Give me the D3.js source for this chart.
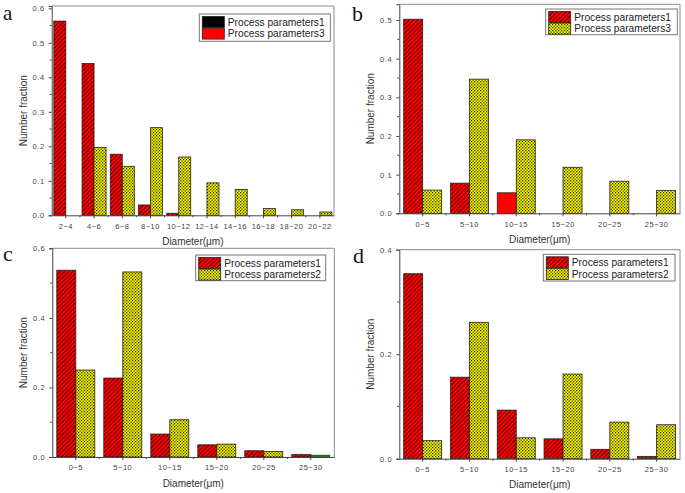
<!DOCTYPE html>
<html>
<head>
<meta charset="utf-8">
<script src="https://cdn.jsdelivr.net/npm/d3@7"></script>
<style>
  body { margin: 0; background: #fff; }
  svg { display: block; }
  text { font-family: "Liberation Sans", Arial, sans-serif; }
</style>
</head>
<body>
<svg id="chart" width="685" height="493"></svg>
<script>
// ---------- data ----------
const catsA = ["2~4","4~6","6~8","8~10","10~12","12~14","14~16","16~18","18~20","20~22"];
const catsBCD = ["0~5","5~10","10~15","15~20","20~25","25~30"];

const aPP1 = [0.563, 0.440, 0.177, 0.030, 0.006, 0, 0, 0, 0, 0];
const aPP3 = [0, 0.197, 0.142, 0.254, 0.169, 0.094, 0.075, 0.020, 0.016, 0.0096];

const bPP1 = [0.502, 0.078, 0.053, 0, 0, 0];
const bPP3 = [0.060, 0.347, 0.190, 0.119, 0.083, 0.059];

const cPP1 = [0.537, 0.227, 0.066, 0.035, 0.018, 0.007];
const cPP2 = [0.250, 0.532, 0.107, 0.037, 0.016, 0.005];

const dPP1 = [0.354, 0.156, 0.093, 0.038, 0.018, 0.0045];
const dPP2 = [0.0345, 0.261, 0.040, 0.162, 0.070, 0.065];

const ticksA = [0, 0.1, 0.2, 0.3, 0.4, 0.5, 0.6];
const ticksB = [0, 0.1, 0.2, 0.3, 0.4, 0.5];
const ticksC = [0, 0.2, 0.4, 0.6];
const ticksD = [0, 0.2, 0.4];

const legendA = ["Process parameters1", "Process parameters3"];
const legendB = ["Process parameters1", "Process parameters3"];
const legendC = ["Process parameters1", "Process parameters2"];
const legendD = ["Process parameters1", "Process parameters2"];

const xTitle = "Diameter(μm)";
const yTitle = "Number fraction";

// ---------- drawing ----------
const svg = d3.select("#chart");
const defs = svg.append("defs");

const hatch = defs.append("pattern").attr("id", "hatchRed")
  .attr("patternUnits", "userSpaceOnUse").attr("width", 3).attr("height", 3)
  .attr("patternTransform", "rotate(45)");
hatch.append("rect").attr("width", 3).attr("height", 3).attr("fill", "#ff0000");
hatch.append("rect").attr("x", 0).attr("y", 0).attr("width", 1).attr("height", 3).attr("fill", "#5a0000");

const check = defs.append("pattern").attr("id", "checkYellow")
  .attr("patternUnits", "userSpaceOnUse").attr("width", 3).attr("height", 3);
check.append("rect").attr("width", 3).attr("height", 3).attr("fill", "#ffff00");
check.append("rect").attr("x", 0).attr("y", 0).attr("width", 1.25).attr("height", 1.25).attr("fill", "#2a2a00");
check.append("rect").attr("x", 1.5).attr("y", 1.5).attr("width", 1.25).attr("height", 1.25).attr("fill", "#2a2a00");

function panel(cfg) {
  const g = svg.append("g");
  const x = d3.scaleBand().domain(cfg.cats).range([cfg.left, cfg.right]).padding(0);
  const y = d3.scaleLinear().domain([0, cfg.ymax]).range([cfg.bottom, cfg.top]);
  const bw = cfg.barW;

  // frame (top & right)
  g.append("path")
    .attr("d", `M${cfg.left},${cfg.top}H${cfg.right}V${cfg.bottom}`)
    .attr("fill", "none").attr("stroke", "#8a8a8a").attr("stroke-width", 1);

  cfg.cats.forEach((c, i) => {
    const cx = x(c) + x.bandwidth() / 2;
    const v1 = cfg.s1[i];
    if (v1 > 0) {
      const fill = (cfg.s1Fill && cfg.s1Fill[i]) || cfg.fill1;
      g.append("rect").attr("x", cx - bw).attr("y", y(v1))
        .attr("width", bw).attr("height", y(0) - y(v1))
        .attr("fill", fill).attr("stroke", "#222").attr("stroke-width", 0.8);
    }
    const v2 = cfg.s2[i];
    if (v2 > 0) {
      const fill = (cfg.s2Fill && cfg.s2Fill[i]) || cfg.fill2;
      g.append("rect").attr("x", cx).attr("y", y(v2))
        .attr("width", bw).attr("height", y(0) - y(v2))
        .attr("fill", fill).attr("stroke", "#222").attr("stroke-width", 0.8);
    }
  });

  // y axis
  const yAxis = d3.axisLeft(y).tickValues(cfg.ticks).tickFormat(d3.format(".1f"))
    .tickSize(3).tickPadding(4);
  const ya = g.append("g").attr("transform", `translate(${cfg.left},0)`).call(yAxis);
  ya.select(".domain").attr("stroke", "#444");
  ya.selectAll(".tick line").attr("stroke", "#444");
  ya.selectAll(".tick text").attr("fill", "#444").style("font-size", "7.5px")
    .style("letter-spacing", "0.6px").style("font-family", "Liberation Sans, Arial, sans-serif");
  const step = cfg.ticks[1] - cfg.ticks[0];
  const minors = cfg.ticks.slice(0, -1).map(t => t + step / 2).filter(t => t <= cfg.ymax);
  g.selectAll(null).data(minors).enter().append("line")
    .attr("x1", cfg.left - 2).attr("x2", cfg.left)
    .attr("y1", d => y(d)).attr("y2", d => y(d)).attr("stroke", "#444");

  // x axis
  const xAxis = d3.axisBottom(x).tickSize(3).tickPadding(5).tickSizeOuter(0);
  const xa = g.append("g").attr("transform", `translate(0,${cfg.bottom})`).call(xAxis);
  xa.select(".domain").attr("stroke", "#444");
  xa.selectAll(".tick line").attr("stroke", "#444");
  xa.selectAll(".tick text").attr("fill", "#444").style("font-size", "7.5px")
    .style("letter-spacing", "0.5px").style("font-family", "Liberation Sans, Arial, sans-serif");
  const bounds = cfg.cats.slice(1).map(c => x(c));
  g.selectAll(null).data(bounds).enter().append("line")
    .attr("x1", d => d).attr("x2", d => d)
    .attr("y1", cfg.bottom).attr("y2", cfg.bottom + 2).attr("stroke", "#444");

  // titles
  g.append("text").attr("x", (cfg.left + cfg.right) / 2).attr("y", cfg.xTitleY)
    .attr("text-anchor", "middle").attr("fill", "#333").style("font-size", "10px").text(xTitle);
  g.append("text")
    .attr("transform", `translate(${cfg.yTitleX},${(cfg.top + cfg.bottom) / 2}) rotate(-90)`)
    .attr("text-anchor", "middle").attr("fill", "#333").style("font-size", "10px").text(yTitle);

  // panel letter
  g.append("text").attr("x", cfg.letterX).attr("y", cfg.letterY)
    .style("font-family", "Liberation Serif, Times New Roman, serif")
    .style("font-size", cfg.letterSize + "px").attr("fill", "#111").text(cfg.letter);

  // legend
  const L = cfg.legend;
  g.append("rect").attr("x", L.x).attr("y", L.y).attr("width", L.w).attr("height", L.h)
    .attr("fill", "#fff").attr("stroke", "#777").attr("stroke-width", 1);
  cfg.legendLabels.forEach((lab, i) => {
    const ry = L.y + 2.5 + i * 11.6;
    g.append("rect").attr("x", L.x + 3).attr("y", ry).attr("width", 22).attr("height", 11)
      .attr("fill", cfg.legendFills[i]).attr("stroke", "#222").attr("stroke-width", 0.8);
    g.append("text").attr("x", L.x + 28.5).attr("y", ry + 9.2)
      .attr("fill", "#222").style("font-size", "10.2px").text(lab);
  });
}

panel({
  cats: catsA, s1: aPP1, s2: aPP3, ticks: ticksA,
  left: 51.7, right: 334, top: 6, bottom: 215.3, ymax: 0.6067, barW: 12,
  fill1: "url(#hatchRed)", fill2: "url(#checkYellow)",
  xTitleY: 245, yTitleX: 27, letter: "a", letterX: 3, letterY: 19.5, letterSize: 21,
  legend: { x: 199.3, y: 14, w: 131, h: 27.3 }, legendLabels: legendA,
  legendFills: ["#000000", "#ff0000"]
});

panel({
  cats: catsBCD, s1: bPP1, s2: bPP3, ticks: ticksB,
  left: 399.3, right: 680, top: 4.3, bottom: 213.3, ymax: 0.5406, barW: 19,
  s1Fill: [null, null, "#ff0000", null, null, null],
  fill1: "url(#hatchRed)", fill2: "url(#checkYellow)",
  xTitleY: 243, yTitleX: 374, letter: "b", letterX: 352, letterY: 21, letterSize: 22,
  legend: { x: 545.7, y: 9, w: 131.6, h: 25.7 }, legendLabels: legendB,
  legendFills: ["url(#hatchRed)", "url(#checkYellow)"]
});

panel({
  cats: catsBCD, s1: cPP1, s2: cPP2, ticks: ticksC,
  left: 52.3, right: 334.3, top: 248.3, bottom: 457, ymax: 0.6, barW: 19,
  s2Fill: [null, null, null, null, null, "#2ea82e"],
  fill1: "url(#hatchRed)", fill2: "url(#checkYellow)",
  xTitleY: 487, yTitleX: 27, letter: "c", letterX: 3, letterY: 261, letterSize: 22,
  legend: { x: 195.7, y: 255, w: 130, h: 25.7 }, legendLabels: legendC,
  legendFills: ["url(#hatchRed)", "url(#checkYellow)"]
});

panel({
  cats: catsBCD, s1: dPP1, s2: dPP2, ticks: ticksD,
  left: 399.3, right: 680, top: 249.7, bottom: 458.7, ymax: 0.4, barW: 19,
  fill1: "url(#hatchRed)", fill2: "url(#checkYellow)",
  xTitleY: 488, yTitleX: 374, letter: "d", letterX: 353, letterY: 263, letterSize: 22,
  legend: { x: 543.3, y: 254.3, w: 131.7, h: 26.7 }, legendLabels: legendD,
  legendFills: ["url(#hatchRed)", "url(#checkYellow)"]
});
</script>
</body>
</html>
